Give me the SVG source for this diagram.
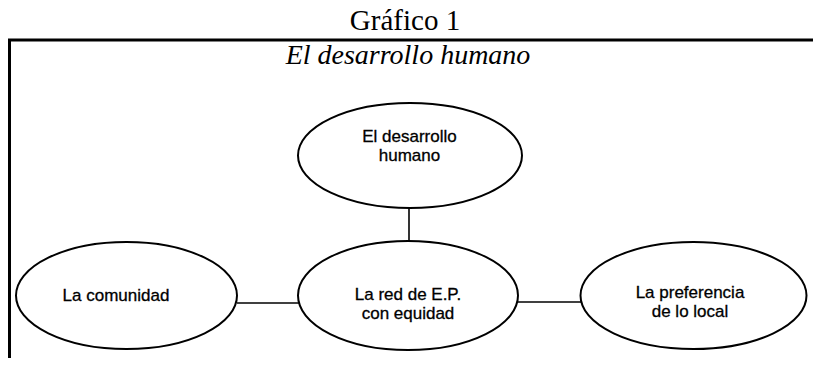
<svg xmlns="http://www.w3.org/2000/svg" width="813" height="370" viewBox="0 0 813 370">
<style>
.node ellipse{fill:#fff;stroke:#000;stroke-width:2}
.node text{font-family:"Liberation Sans",Arial,sans-serif;font-size:17px;fill:#000;text-anchor:middle;stroke:#000;stroke-width:0.3}
#connectors line{stroke:#000;stroke-width:1.6}
.frame{stroke:#000;fill:none}
.title{font-family:"Liberation Serif","Times New Roman",serif;fill:#000;text-anchor:middle}
</style>
<rect width="813" height="370" fill="#fff"/>
<text class="title" x="405" y="30" font-size="29">Gráfico 1</text>
<line class="frame" x1="8" y1="40" x2="813" y2="40" stroke-width="3"/>
<line class="frame" x1="9.5" y1="39" x2="9.5" y2="358" stroke-width="3"/>
<text class="title" x="408" y="64" font-size="28" font-style="italic">El desarrollo humano</text>
<g id="connectors">
<line x1="409" y1="207" x2="409" y2="242"/>
<line x1="237" y1="303" x2="299" y2="303"/>
<line x1="517" y1="302" x2="581" y2="302"/>
</g>
<g id="node-desarrollo" class="node">
<ellipse cx="410" cy="155.5" rx="112" ry="52.5"/>
<text x="409.5" y="142">El desarrollo</text>
<text x="409.5" y="161">humano</text>
</g>
<g id="node-red" class="node">
<ellipse cx="408" cy="295.5" rx="110" ry="54.5"/>
<text x="408" y="300">La red de E.P.</text>
<text x="408" y="319">con equidad</text>
</g>
<g id="node-comunidad" class="node">
<ellipse cx="126.5" cy="295.5" rx="110.5" ry="53.5"/>
<text x="116" y="301">La comunidad</text>
</g>
<g id="node-local" class="node">
<ellipse cx="693.5" cy="295.5" rx="113" ry="53.5"/>
<text x="690" y="298">La preferencia</text>
<text x="690" y="317">de lo local</text>
</g>
</svg>
